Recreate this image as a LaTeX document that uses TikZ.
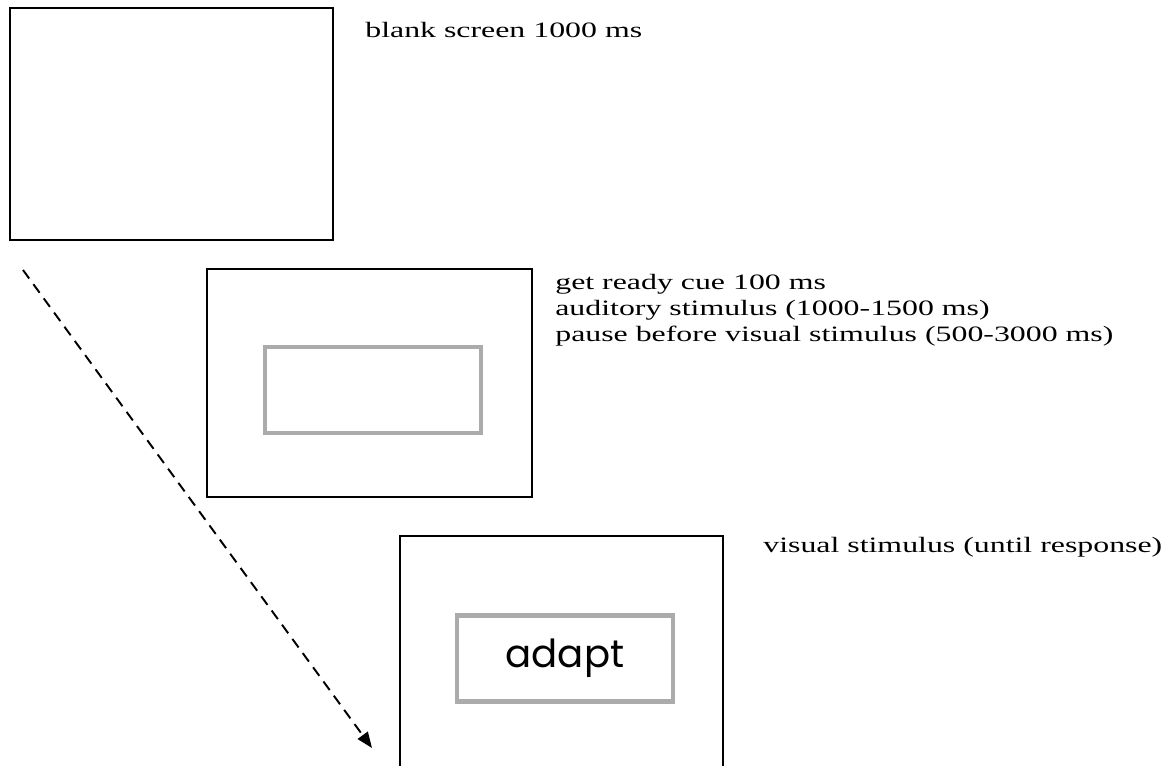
\documentclass[tikz,border=0pt]{standalone}
\usepackage{fontspec}
\setmainfont{Liberation Serif}[FakeStretch=1.45]
\newfontfamily\wordfont{Poppins}
\usetikzlibrary{arrows.meta,positioning}

\begin{document}
\begin{tikzpicture}[
  x=0.02cm, y=-0.02cm,
  every node/.style={font=\fontsize{12.5}{14.8}\selectfont},
  screen/.style={draw=black, line width=1.1pt, inner sep=0pt},
  frame/.style={draw=black!33, line width=2.3pt, inner sep=0pt,
                minimum width=4.32cm, minimum height=1.72cm},
  note/.style={inner sep=0pt, align=left},
  arr/.style={-{Triangle[length=9pt,width=7pt]}, line width=1.1pt,
              dash pattern=on 6pt off 4pt}
]
\useasboundingbox (0,0) rectangle (1171,766);
\clip (0,0) rectangle (1171,766);

% three screens of one trial
\node[screen, minimum width=6.46cm, minimum height=4.64cm] (blank) at (171.5,124) {};
\node[screen, minimum width=6.5cm, minimum height=4.56cm] (cue) at (369.5,383) {};
\node[frame] (cueframe) at (373,390) {};
\node[screen, minimum width=6.46cm, minimum height=4.8cm, anchor=north] (target) at (561.5,535) {};
\node[frame, font=\wordfont\fontsize{22}{22}\selectfont] (word) at (565,658.5) {adapt};

% timing notes
\node[note, anchor=base west] (blanktxt) at (365,38) {blank screen 1000 ms};
\node[note, anchor=north west] (cuetxt) at (555,274)
  {get ready cue 100 ms\\
   auditory stimulus (1000-1500 ms)\\
   pause before visual stimulus (500-3000 ms)};
\node[note, anchor=base west] (targettxt) at (763,553) {visual stimulus (until response)};

% time runs down
\coordinate (tstart) at (23,270);
\coordinate (tend) at (372,748);
\draw[arr] (tstart) -- (tend);
\end{tikzpicture}
\end{document}
